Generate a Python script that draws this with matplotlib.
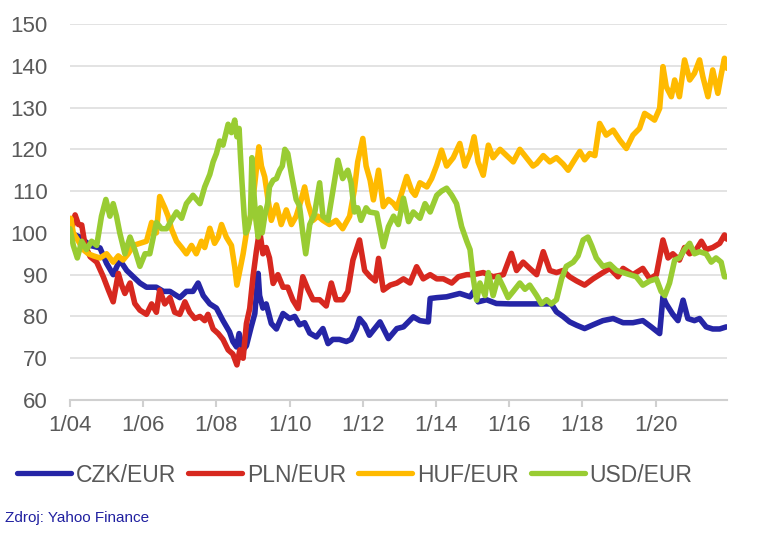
import matplotlib
matplotlib.use("Agg")
import matplotlib.pyplot as plt
from matplotlib.lines import Line2D

plt.rcParams["font.family"] = ["Liberation Sans", "DejaVu Sans"]

# -----------------------------
# Data (index, 1/2004 = 100), time in decimal years
# -----------------------------
czk_t = [2004.00, 2004.27, 2004.55, 2004.82, 2005.00, 2005.18, 2005.36, 2005.55, 2005.73, 2005.91,
         2006.09, 2006.36, 2006.55, 2006.73, 2007.00, 2007.18, 2007.36, 2007.50, 2007.64, 2007.82,
         2008.00, 2008.18, 2008.36, 2008.45, 2008.55, 2008.62, 2008.73, 2008.82, 2008.95, 2009.05,
         2009.14, 2009.18, 2009.27, 2009.36, 2009.50, 2009.64, 2009.82, 2010.00, 2010.14, 2010.27,
         2010.41, 2010.55, 2010.73, 2010.91, 2011.05, 2011.18, 2011.36, 2011.55, 2011.68, 2011.82,
         2011.91, 2012.05, 2012.18, 2012.47, 2012.70, 2012.93, 2013.11, 2013.38, 2013.56, 2013.79,
         2013.84, 2014.02, 2014.29, 2014.65, 2014.93, 2015.06, 2015.15, 2015.38, 2015.65, 2016.02,
         2016.47, 2016.93, 2017.15, 2017.29, 2017.47, 2017.65, 2017.84, 2018.06, 2018.29, 2018.56,
         2018.84, 2019.11, 2019.38, 2019.65, 2019.88, 2020.11, 2020.20, 2020.29, 2020.47, 2020.61,
         2020.75, 2020.88, 2021.06, 2021.20, 2021.38, 2021.56, 2021.75, 2021.93]
czk_v = [100, 99, 97, 96.4, 92.7, 90, 93.5, 91, 89.5, 88,
         87, 87, 86, 86, 84.5, 86, 86, 88, 85, 83,
         82, 79, 76.3, 74, 72.7, 75.9, 72, 73, 77.5, 80.7,
         90.3, 85, 82, 83, 78.3, 77, 80.7, 79.5, 80, 78,
         78.5, 76, 75.1, 77.1, 73.5, 74.5, 74.5, 74, 74.5, 77,
         79.5, 78, 75.5, 78.7, 74.7, 77.1, 77.5, 79.9, 79, 78.7,
         84.3, 84.5, 84.7, 85.5, 84.7, 86.3, 83.5, 84, 83.1, 83,
         83, 83, 83, 81.1, 80, 78.7, 77.9, 77.1, 78, 79,
         79.5, 78.5, 78.5, 79, 77.5, 75.9, 84.7, 83, 80.5, 79,
         83.9, 79.5, 79, 79.5, 77.5, 77, 77, 77.5]

pln_t = [2004.00, 2004.05, 2004.14, 2004.23, 2004.32, 2004.41, 2004.55, 2004.73, 2004.91, 2005.05,
         2005.18, 2005.32, 2005.41, 2005.50, 2005.64, 2005.77, 2005.91, 2006.09, 2006.23, 2006.36,
         2006.45, 2006.59, 2006.73, 2006.86, 2007.00, 2007.14, 2007.27, 2007.41, 2007.55, 2007.68,
         2007.77, 2007.91, 2008.05, 2008.18, 2008.32, 2008.45, 2008.56, 2008.64, 2008.73, 2008.82,
         2008.91, 2009.00, 2009.09, 2009.18, 2009.27, 2009.36, 2009.45, 2009.55, 2009.68, 2009.82,
         2009.95, 2010.09, 2010.23, 2010.36, 2010.50, 2010.64, 2010.82, 2011.00, 2011.14, 2011.27,
         2011.45, 2011.59, 2011.73, 2011.91, 2012.05, 2012.20, 2012.34, 2012.43, 2012.56, 2012.75,
         2012.93, 2013.11, 2013.29, 2013.47, 2013.65, 2013.84, 2014.02, 2014.20, 2014.43, 2014.61,
         2014.84, 2015.02, 2015.29, 2015.56, 2015.84, 2016.06, 2016.20, 2016.38, 2016.56, 2016.75,
         2016.93, 2017.11, 2017.29, 2017.47, 2017.65, 2017.84, 2018.06, 2018.29, 2018.56, 2018.75,
         2018.97, 2019.11, 2019.38, 2019.65, 2019.84, 2020.02, 2020.20, 2020.34, 2020.47, 2020.65,
         2020.79, 2020.93, 2021.11, 2021.25, 2021.38, 2021.56, 2021.75, 2021.88, 2021.95]
pln_v = [100, 101, 104.3, 102, 101.9, 97.1, 94.3, 93, 89.5, 86.3,
         83.5, 90.3, 87.5, 85.5, 88, 83.1, 81.5, 80.5, 83, 81,
         86.3, 83, 84.5, 81, 80.5, 83.5, 81, 79.5, 80, 79,
         80.5, 77, 75.9, 74.5, 72, 71, 68.4, 72, 70, 78.3,
         81.9, 89.5, 95.5, 100.7, 95, 96.5, 94, 87.9, 90, 87,
         87, 83.9, 81.9, 89.5, 86.5, 84, 84, 82.5, 88, 84,
         84, 86, 93.5, 98.3, 91, 89.5, 88.5, 93.9, 86.3, 87.5,
         88, 89, 88, 91.9, 89, 90, 89, 89, 88, 89.5,
         90, 90, 90.5, 89.5, 90, 95.1, 91, 93, 91.5, 90,
         95.5, 91, 90.5, 91, 89.5, 88.5, 87.5, 89, 90.5, 91.5,
         89.5, 91.5, 90, 91.5, 89, 90, 98.3, 94, 95, 93.5,
         96.5, 95, 96, 98, 96, 96.5, 97.5, 99.5, 98.5]

huf_t = [2004.00, 2004.02, 2004.09, 2004.23, 2004.36, 2004.50, 2004.64, 2004.82, 2005.00, 2005.18,
         2005.32, 2005.45, 2005.59, 2005.73, 2005.91, 2006.09, 2006.23, 2006.36, 2006.45, 2006.59,
         2006.68, 2006.77, 2006.91, 2007.05, 2007.18, 2007.32, 2007.45, 2007.59, 2007.68, 2007.82,
         2007.95, 2008.05, 2008.14, 2008.27, 2008.41, 2008.50, 2008.56, 2008.64, 2008.73, 2008.82,
         2008.95, 2009.05, 2009.16, 2009.23, 2009.32, 2009.41, 2009.50, 2009.64, 2009.77, 2009.91,
         2010.05, 2010.18, 2010.32, 2010.41, 2010.50, 2010.64, 2010.77, 2010.91, 2011.09, 2011.27,
         2011.45, 2011.64, 2011.77, 2011.86, 2012.00, 2012.09, 2012.20, 2012.29, 2012.43, 2012.56,
         2012.70, 2012.84, 2012.93, 2013.06, 2013.20, 2013.34, 2013.43, 2013.56, 2013.75, 2013.88,
         2014.02, 2014.15, 2014.29, 2014.47, 2014.65, 2014.79, 2014.93, 2015.04, 2015.15, 2015.29,
         2015.43, 2015.56, 2015.75, 2015.93, 2016.11, 2016.29, 2016.47, 2016.65, 2016.75, 2016.93,
         2017.11, 2017.29, 2017.47, 2017.61, 2017.75, 2017.93, 2018.06, 2018.20, 2018.34, 2018.47,
         2018.65, 2018.84, 2019.02, 2019.20, 2019.38, 2019.56, 2019.70, 2019.84, 2019.97, 2020.11,
         2020.20, 2020.29, 2020.43, 2020.52, 2020.65, 2020.79, 2020.93, 2021.06, 2021.20, 2021.29,
         2021.43, 2021.56, 2021.70, 2021.79, 2021.88, 2021.95]
huf_v = [101, 103.5, 100, 98, 96, 95, 94.5, 94, 95, 93,
         94.5, 93.5, 95, 97, 97.5, 98, 102.5, 100, 108.7, 106,
         104, 101, 98, 96.5, 95, 97, 95, 98, 96.5, 101.1,
         97.5, 99, 102, 99, 97, 91.9, 87.5, 91, 95, 100,
         104.7, 111.9, 120.6, 116, 113.4, 108, 103, 106.7, 102, 105.5,
         102, 104, 108, 111, 107, 103, 104, 103, 102, 103,
         101, 104, 110.3, 117, 122.6, 116, 112.6, 107.9, 115, 106.3,
         108, 107, 105.9, 109.5, 113.5, 110, 109, 112, 111, 113,
         116.2, 119.8, 116, 118, 121.4, 116, 119, 123, 117, 113.8,
         121, 118, 120, 118.5, 117, 120, 118, 116, 116.6, 118.5,
         117, 118, 116.5, 115, 117, 119.5, 117.5, 119, 118.5, 126.2,
         123.4, 124.6, 122.2, 120.2, 123.4, 125, 128.6, 127.8, 127, 129.8,
         139.8, 135, 132.6, 136.6, 132.6, 141.4, 136.6, 138.2, 141.4, 137.4,
         132.6, 139, 133.4, 137.8, 141.8, 139.4]

usd_t = [2004.00, 2004.09, 2004.20, 2004.32, 2004.45, 2004.59, 2004.73, 2004.86, 2004.98, 2005.09,
         2005.18, 2005.27, 2005.36, 2005.50, 2005.64, 2005.77, 2005.91, 2006.05, 2006.18, 2006.36,
         2006.50, 2006.64, 2006.77, 2006.91, 2007.05, 2007.18, 2007.36, 2007.55, 2007.68, 2007.82,
         2007.91, 2008.00, 2008.09, 2008.18, 2008.32, 2008.41, 2008.50, 2008.56, 2008.62, 2008.66,
         2008.70, 2008.76, 2008.80, 2008.86, 2008.93, 2008.97, 2009.02, 2009.08, 2009.14, 2009.20,
         2009.25, 2009.32, 2009.40, 2009.45, 2009.55, 2009.64, 2009.73, 2009.80, 2009.87, 2009.95,
         2010.05, 2010.18, 2010.27, 2010.36, 2010.44, 2010.55, 2010.68, 2010.82, 2010.91, 2011.05,
         2011.18, 2011.32, 2011.45, 2011.59, 2011.68, 2011.77, 2011.86, 2011.95, 2012.09, 2012.18,
         2012.38, 2012.56, 2012.70, 2012.84, 2012.97, 2013.11, 2013.25, 2013.38, 2013.56, 2013.70,
         2013.84, 2014.02, 2014.15, 2014.29, 2014.43, 2014.56, 2014.70, 2014.84, 2014.93, 2015.02,
         2015.11, 2015.20, 2015.34, 2015.43, 2015.56, 2015.70, 2015.84, 2015.97, 2016.11, 2016.29,
         2016.43, 2016.56, 2016.75, 2016.88, 2017.02, 2017.15, 2017.29, 2017.43, 2017.56, 2017.75,
         2017.88, 2018.02, 2018.15, 2018.25, 2018.38, 2018.56, 2018.75, 2018.93, 2019.11, 2019.29,
         2019.47, 2019.65, 2019.84, 2020.02, 2020.15, 2020.25, 2020.38, 2020.52, 2020.65, 2020.79,
         2020.93, 2021.06, 2021.20, 2021.38, 2021.52, 2021.65, 2021.79, 2021.88, 2021.93]
usd_v = [101, 97, 94, 98, 96, 98, 97, 104, 108, 104,
         107, 104, 100, 95, 99, 96, 92, 95, 95, 102.5,
         101, 101, 103, 105, 103.5, 107, 109, 107, 111, 114,
         117, 119, 122, 121, 126, 124, 127, 123, 125, 118,
         112, 104, 100, 101, 104, 118, 110, 103, 99, 106,
         100, 104, 107, 111, 112.6, 113, 115, 116, 120, 119,
         114, 108, 106.5, 100, 95, 102, 104.5, 112, 104, 103,
         110, 117.4, 113, 115, 112, 105, 106, 103, 106, 105,
         104.7, 96.7, 101.5, 104, 102, 108.3, 102.7, 105, 103.5, 107,
         105, 109, 110, 110.7, 109, 107, 101.5, 98, 96, 89,
         83.9, 88, 85, 90.5, 85, 89.5, 87, 84.5, 86, 88,
         86.5, 87.5, 85, 83, 84, 83, 84, 89, 92, 93,
         94.5, 98.3, 99, 97, 94, 92, 92.5, 91, 90.5, 90,
         89.5, 87.5, 88.5, 89, 86, 85, 88, 93.5, 94, 96,
         97.5, 95, 95.5, 95, 93, 94, 93, 89.5, 89.5]

labels = ["CZK/EUR", "PLN/EUR", "HUF/EUR", "USD/EUR"]
colors = ["#2525a6", "#d7281f", "#ffba00", "#99cc33"]
tick_years = [2004, 2006, 2008, 2010, 2012, 2014, 2016, 2018, 2020]
tick_labels = ["1/04", "1/06", "1/08", "1/10", "1/12", "1/14", "1/16", "1/18", "1/20"]

# -----------------------------
# Plot
# -----------------------------
fig = plt.figure(figsize=(7.58, 5.39), dpi=100)
ax = fig.add_axes([70 / 758, 1 - 400 / 539, 657 / 758, 376 / 539])

series = [(czk_t, czk_v), (pln_t, pln_v), (huf_t, huf_v), (usd_t, usd_v)]
for (t, v), lab, c in zip(series, labels, colors):
    ax.plot(t, v, color=c, lw=4.0, solid_joinstyle="round", solid_capstyle="round", label=lab)

ax.set_xlim(2004.0, 2021.95)
ax.set_ylim(60, 150)
ax.set_yticks(range(60, 151, 10))
ax.set_xticks(tick_years)
ax.set_xticklabels(tick_labels)

ax.grid(axis="y", color="#dedede", lw=1.2)
ax.set_axisbelow(True)
for s in ["top", "right", "left"]:
    ax.spines[s].set_visible(False)
ax.spines["bottom"].set_color("#d0d0d0")
ax.spines["bottom"].set_linewidth(1.5)
ax.tick_params(axis="y", length=0, pad=16, labelsize=16, labelcolor="#595959")
ax.tick_params(axis="x", length=5, width=1.5, color="#d0d0d0", pad=6,
               labelsize=16, labelcolor="#595959")

handles = [Line2D([], [], color=c, lw=3.8, solid_capstyle="round") for c in colors]
leg = fig.legend(handles, labels, loc="center left", bbox_to_anchor=(17 / 758, 1 - 475 / 539),
                 ncol=4, frameon=False, fontsize=16.5, handlelength=2.35, handletextpad=0.2,
                 columnspacing=0.55, borderaxespad=0, borderpad=0)
for txt in leg.get_texts():
    txt.set_color("#595959")

fig.text(5 / 758, 1 - 518 / 539, "Zdroj: Yahoo Finance", color="#2020a0", fontsize=11, va="center")

fig.savefig("out.png", dpi=100)
